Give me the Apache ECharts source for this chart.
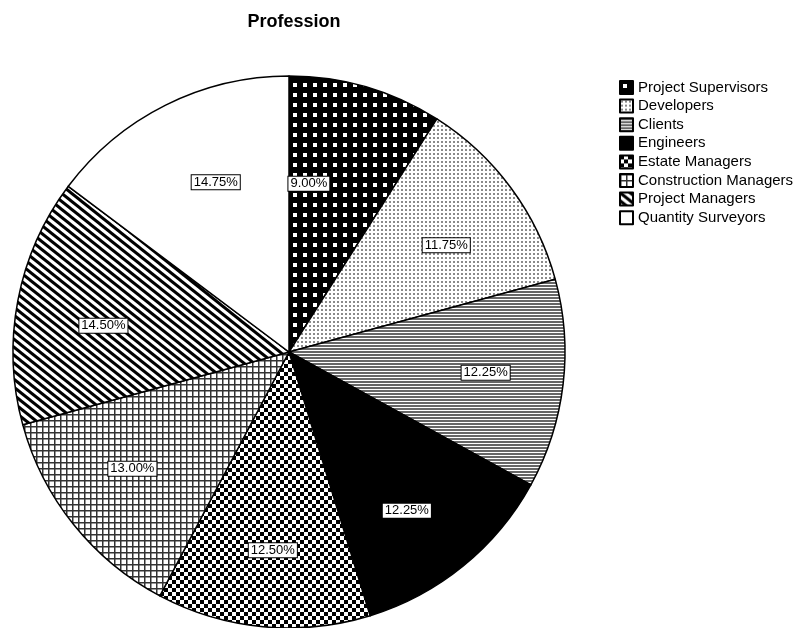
<!DOCTYPE html>
<html>
<head>
<meta charset="utf-8">
<script src="https://cdn.jsdelivr.net/npm/echarts@6/dist/echarts.min.js"></script>
<style>
  html, body { margin: 0; padding: 0; background: #fff; }
  #main { width: 793px; height: 628px; }
</style>
</head>
<body>
<div id="main"></div>
<script>
const professions = [
    "Project Supervisors",
    "Developers",
    "Clients",
    "Engineers",
    "Estate Managers",
    "Construction Managers",
    "Project Managers",
    "Quantity Surveyors"
];
const shares = [9.00, 11.75, 12.25, 12.25, 12.50, 13.00, 14.50, 14.75];

// SPSS doesn't put the boxes exactly on the mid angle, nudge them a bit
const labelNudge = [[-34, 17], [2, 8], [5, -2], [-4, 9], [2, 6], [-6, -4], [4, 10], [13, 3]];

// little tiles to fake the SPSS hatching
function tile(w, h, draw) {
    const c = document.createElement("canvas");
    c.width = w;
    c.height = h;
    const ctx = c.getContext("2d");
    ctx.fillStyle = "#fff";
    ctx.fillRect(0, 0, w, h);
    draw(ctx);
    return { image: c, repeat: "repeat" };
}

const fills = [
    tile(10, 10, (ctx) => {
        ctx.fillStyle = "#000";
        ctx.fillRect(0, 0, 10, 10);
        ctx.fillStyle = "#fff";
        ctx.fillRect(3, 3, 4, 4);
    }),
    tile(4, 4, (ctx) => {
        ctx.fillStyle = "#8a8a8a";
        ctx.fillRect(1, 1, 2, 2);
    }),
    tile(3, 3, (ctx) => {
        ctx.fillStyle = "#666";
        ctx.fillRect(0, 0, 3, 2);
    }),
    "#000",
    tile(8, 8, (ctx) => {
        ctx.fillStyle = "#000";
        ctx.fillRect(0, 0, 4, 4);
        ctx.fillRect(4, 4, 4, 4);
    }),
    tile(6, 6, (ctx) => {
        ctx.fillStyle = "#333";
        ctx.fillRect(0, 0, 6, 1.5);
        ctx.fillRect(0, 0, 1.5, 6);
    }),
    tile(10, 8, (ctx) => {
        ctx.strokeStyle = "#000";
        ctx.lineWidth = 3;
        for (let k = -1; k <= 1; k++) {
            ctx.beginPath();
            ctx.moveTo(-10 + k * 10, -8);
            ctx.lineTo(20 + k * 10, 16);
            ctx.stroke();
        }
    }),
    "#fff"
];

const pieData = professions.map((name, i) => ({
    name: name,
    value: shares[i],
    itemStyle: { color: fills[i] }
}));

const labelData = professions.map((name, i) => ({
    name: name,
    value: shares[i],
    label: { offset: labelNudge[i] }
}));

const chart = echarts.init(document.getElementById("main"));
chart.setOption({
    backgroundColor: "#fff",
    animation: false,
    title: {
        text: "Profession",
        left: 289,
        textAlign: "center",
        top: 8,
        textStyle: { fontFamily: "Liberation Sans", fontSize: 18, fontWeight: "bold", color: "#000" }
    },
    legend: {
        orient: "vertical",
        left: 619,
        top: 80,
        padding: 0,
        itemWidth: 13,
        itemHeight: 13,
        itemGap: 3.6,
        icon: "rect",
        data: professions,
        textStyle: { fontFamily: "Liberation Sans", fontSize: 15, lineHeight: 15, color: "#000" }
    },
    series: [
        {
            type: "pie",
            center: [289, 352],
            radius: [0, 276],
            startAngle: 90,
            silent: true,
            itemStyle: { borderColor: "#000", borderWidth: 1.5 },
            label: { show: false },
            labelLine: { show: false },
            data: pieData
        },
        {
            type: "pie",
            center: [289, 352],
            radius: [104, 276],
            startAngle: 90,
            silent: true,
            itemStyle: { color: "rgba(0,0,0,0)", borderWidth: 0 },
            label: {
                show: true,
                position: "inside",
                formatter: (p) => p.value.toFixed(2) + "%",
                fontFamily: "Liberation Sans",
                fontSize: 13,
                color: "#000",
                backgroundColor: "#fff",
                borderColor: "#000",
                borderWidth: 1,
                padding: [1, 2, 0, 2]
            },
            labelLine: { show: false },
            data: labelData
        }
    ]
});
</script>
</body>
</html>
